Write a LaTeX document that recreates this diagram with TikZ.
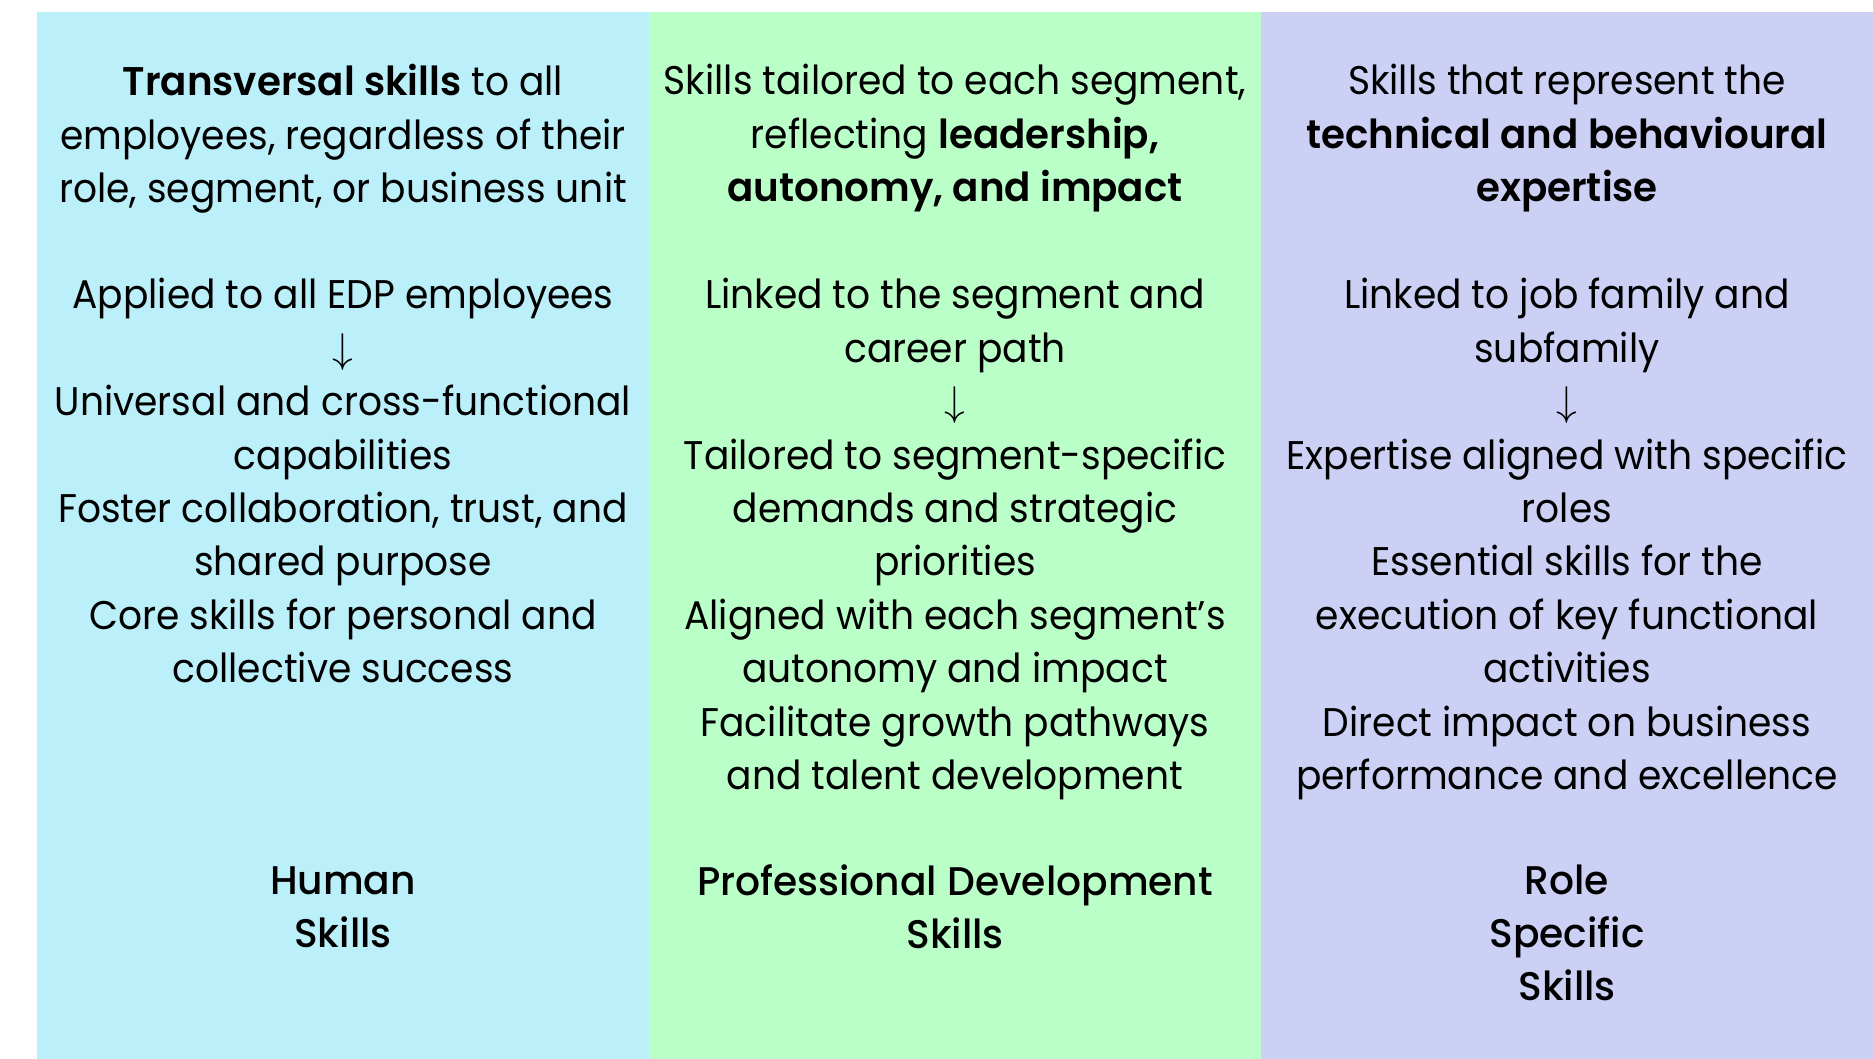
\documentclass[tikz,border=0pt]{standalone}
\usepackage{fontspec}
\setmainfont{Poppins}[FakeStretch=0.94, BoldFont={Poppins SemiBold}, BoldFeatures={FakeStretch=0.97}]
\newfontfamily\medfont{Poppins Medium}[FakeStretch=0.98]
\usetikzlibrary{positioning}

\definecolor{humanbg}{RGB}{187,239,249}
\definecolor{profbg}{RGB}{187,255,200}
\definecolor{rolebg}{RGB}{203,208,244}

\tikzset{
    blurb/.style={align=center, anchor=north, inner sep=0pt,
        font=\fontsize{20}{26.7}\selectfont},
    heading/.style={blurb, font=\medfont\fontsize{20}{26.7}\selectfont}
}

\begin{document}
\begin{tikzpicture}[x=0.5pt, y=-0.5pt]
    \useasboundingbox (0,0) rectangle (1873,1059);

    \fill[humanbg] (37,12) rectangle (649,1059);
    \fill[profbg] (649,12) rectangle (1261,1059);
    \fill[rolebg] (1261,12) rectangle (1873,1059);

    % first column
    \node[blurb] (humantop) at (343,64) {\textbf{Transversal skills} to all\\employees, regardless of their\\role, segment, or business unit};
    \node[blurb] (humanmid) at (343,278) {Applied to all EDP employees\\$\downarrow$\\Universal and cross-functional\\capabilities\\Foster collaboration, trust, and\\shared purpose\\Core skills for personal and\\collective success};
    \node[heading] (humanname) at (343,866) {Human\\Skills};

    % second column
    \node[blurb] (proftop) at (955,64) {Skills tailored to each segment,\\reflecting \textbf{leadership,}\\\textbf{autonomy, and impact}};
    \node[blurb] (profmid) at (955,278) {Linked to the segment and\\career path\\$\downarrow$\\Tailored to segment-specific\\demands and strategic\\priorities\\Aligned with each segment’s\\autonomy and impact\\Facilitate growth pathways\\and talent development};
    \node[heading] (profname) at (955,864) {Professional Development\\Skills};

    % third column
    \node[blurb] (roletop) at (1567,64) {Skills that represent the\\\textbf{technical and behavioural}\\\textbf{expertise}};
    \node[blurb] (rolemid) at (1567,278) {Linked to job family and\\subfamily\\$\downarrow$\\Expertise aligned with specific\\roles\\Essential skills for the\\execution of key functional\\activities\\Direct impact on business\\performance and excellence};
    \node[heading] (rolename) at (1567,864) {Role\\Specific\\Skills};
\end{tikzpicture}
\end{document}
